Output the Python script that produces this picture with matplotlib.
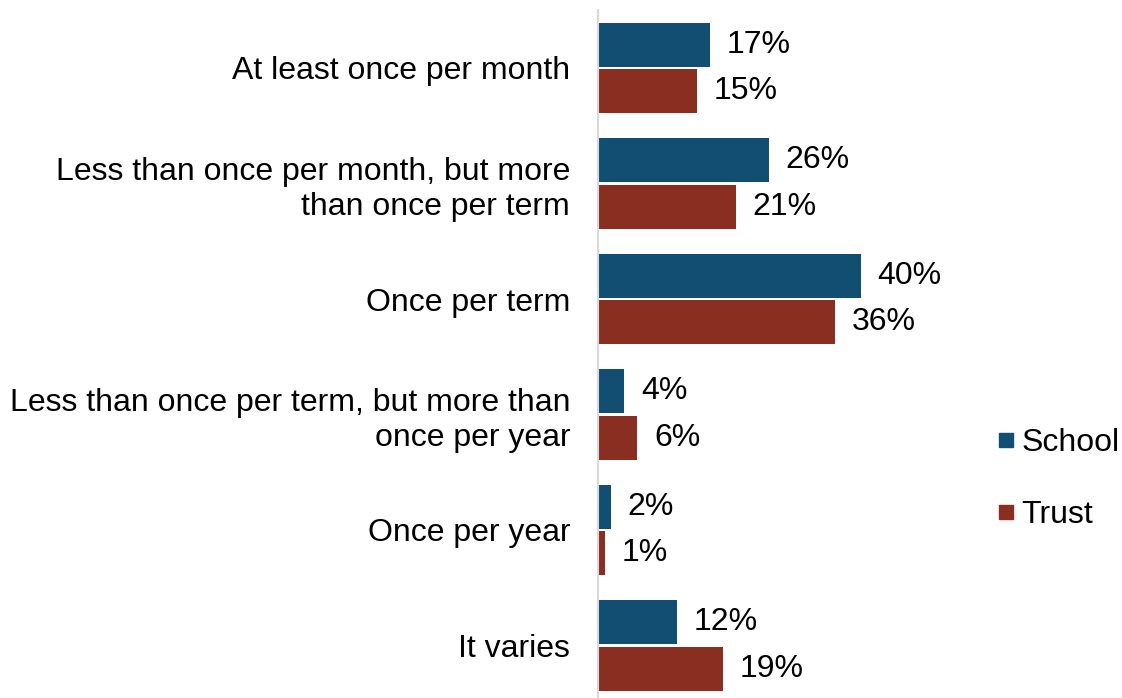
import matplotlib.pyplot as plt
from matplotlib.lines import Line2D
import numpy as np

plt.rcParams['font.family'] = ['Liberation Sans', 'DejaVu Sans']

categories = [
    'At least once per month',
    'Less than once per month, but more\nthan once per term',
    'Once per term',
    'Less than once per term, but more than\nonce per year',
    'Once per year',
    'It varies',
]
school = [17, 26, 40, 4, 2, 12]
trust = [15, 21, 36, 6, 1, 19]

school_color = '#124E72'
trust_color = '#8B2E22'
fs = 23

fig = plt.figure(figsize=(11.22, 6.98), dpi=100)
ax = fig.add_axes([598 / 1122, 1 - 703.25 / 698, 362 / 1122, 693 / 698])

y = np.arange(len(categories))
bar_h = 0.381
off = 0.203

bars_s = ax.barh(y - off, school, height=bar_h, color=school_color, label='School')
bars_t = ax.barh(y + off, trust, height=bar_h, color=trust_color, label='Trust')

for bars, vals in ((bars_s, school), (bars_t, trust)):
    for b, v in zip(bars, vals):
        ax.annotate(f'{v}%', (b.get_width(), b.get_y() + b.get_height() / 2),
                    xytext=(12, 0), textcoords='offset points',
                    va='center', ha='left', fontsize=fs)

ax.set_xlim(0, 362 / 6.575)
ax.set_ylim(len(categories) - 0.5, -0.5)
ax.set_yticks(y)
ax.set_yticklabels(categories, fontsize=fs, linespacing=1.23)
ax.tick_params(axis='y', length=0, pad=20)
ax.set_xticks([])
for side in ('top', 'right', 'bottom'):
    ax.spines[side].set_visible(False)
ax.spines['left'].set_color('#D9D9D9')
ax.spines['left'].set_linewidth(1.5)

handles = [
    Line2D([], [], marker='s', linestyle='none', markersize=10, color=school_color),
    Line2D([], [], marker='s', linestyle='none', markersize=10, color=trust_color),
]
fig.legend(handles, ['School', 'Trust'], loc='center left',
           bbox_to_anchor=(969 / 1122, 1 - 479 / 698), frameon=False,
           fontsize=fs, handlelength=0.5, handletextpad=0.25, labelspacing=1.33)

fig.savefig('out.png', dpi=100)
